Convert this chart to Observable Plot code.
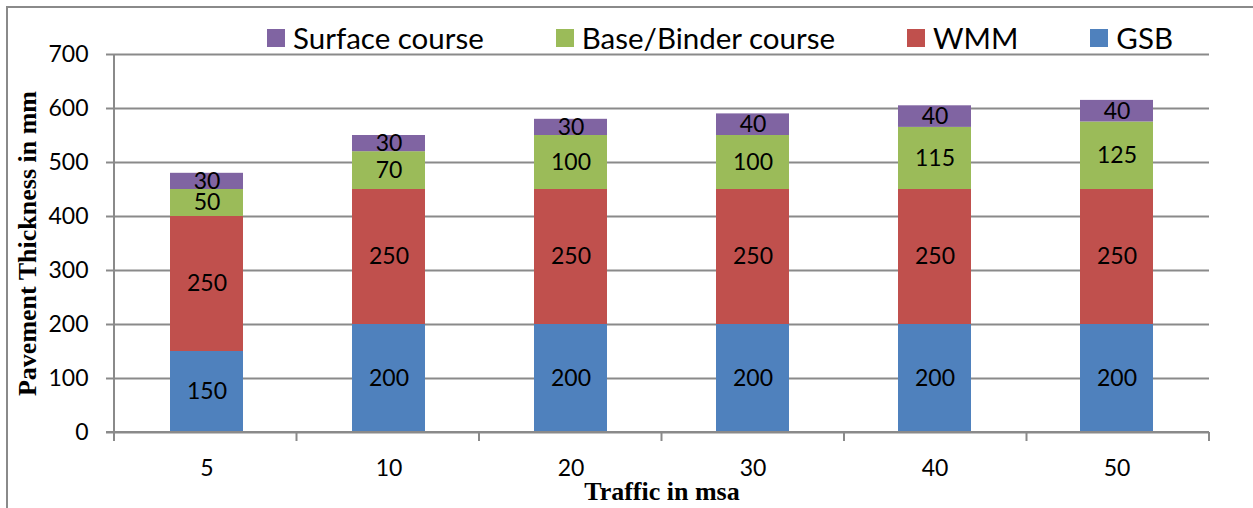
<!DOCTYPE html>
<html><head><meta charset="utf-8">
<script src="https://cdn.jsdelivr.net/npm/d3@7"></script>
<script src="https://cdn.jsdelivr.net/npm/@observablehq/plot@0.6"></script>
<style>
html,body{margin:0;padding:0;background:#fff;overflow:hidden;}
#wrap{position:relative;width:1253px;height:508px;overflow:hidden;}
#border{position:absolute;left:6px;top:6px;width:1400px;height:700px;border-left:2px solid #8a8a8a;border-top:2px solid #8a8a8a;pointer-events:none;box-sizing:border-box;}
#legend{position:absolute;left:267px;top:20px;display:flex;gap:72px;font-family:Lato,sans-serif;font-size:29.5px;line-height:1.2;color:#000;}
.item{display:flex;align-items:center;white-space:nowrap;}
.sw{width:18px;height:18px;margin-right:8px;}
#chart svg{display:block;}
</style></head>
<body>
<div id="wrap"><div id="chart"></div><div id="legend"></div><div id="border"></div></div>
<script>
const categories = ["5", "10", "20", "30", "40", "50"];
const gsb     = [150, 200, 200, 200, 200, 200];
const wmm     = [250, 250, 250, 250, 250, 250];
const base    = [50, 70, 100, 100, 115, 125];
const surface = [30, 30, 30, 40, 40, 40];
const layers = ["GSB", "WMM", "Base/Binder course", "Surface course"];
const layerColors = ["#4F81BD", "#C0504D", "#9BBB59", "#8064A2"];
const legendOrder = ["Surface course", "Base/Binder course", "WMM", "GSB"];
const yTicks = [0, 100, 200, 300, 400, 500, 600, 700];
const xTitle = "Traffic in msa";
const yTitle = "Pavement Thickness in mm";
const axisColor = "#8a8a8a";

const series = [gsb, wmm, base, surface];
const rows = [];
categories.forEach((c, i) => layers.forEach((l, j) => rows.push({cat: c, layer: l, value: series[j][i]})));

function frameLines(index, scales, values, dims) {
  const {width, height, marginLeft, marginRight, marginBottom} = dims;
  const left = marginLeft, right = width - marginRight, bottom = height - marginBottom;
  const n = categories.length, step = (right - left) / n;
  const g = d3.create("svg:g").attr("stroke", axisColor).attr("stroke-width", 2).attr("fill", "none");
  g.append("line").attr("x1", left).attr("x2", left).attr("y1", scales.y(yTicks[yTicks.length - 1])).attr("y2", bottom);
  g.append("line").attr("x1", left - 8).attr("x2", right).attr("y1", bottom).attr("y2", bottom);
  d3.range(n + 1).forEach(i => g.append("line").attr("x1", left + i * step).attr("x2", left + i * step).attr("y1", bottom).attr("y2", bottom + 9));
  return g.node();
}

const chart = Plot.plot({
  width: 1253, height: 508,
  marginLeft: 114, marginRight: 44, marginTop: 54, marginBottom: 76,
  style: {fontFamily: "Lato, sans-serif", fontSize: "23px", color: "#000", background: "transparent"},
  x: {domain: categories, paddingInner: 0.6, paddingOuter: 0.3, axis: null},
  y: {domain: [0, 700], axis: null},
  color: {domain: layers, range: layerColors},
  marks: [
    Plot.gridY(yTicks, {stroke: axisColor, strokeOpacity: 1, strokeWidth: 2}),
    Plot.axisY(yTicks, {label: null, tickSize: 8, tickPadding: 18, stroke: axisColor, strokeWidth: 2, fontSize: 23, fill: "#000", tickFormat: d => String(d)}),
    Plot.barY(rows, Plot.stackY({x: "cat", y: "value", fill: "layer", order: layers})),
    Plot.text(rows, Plot.stackY({x: "cat", y: "value", z: "layer", order: layers, text: d => String(d.value), fill: "#000", fontSize: 23})),
    Plot.axisX({label: null, tickSize: 0, tickPadding: 27, fontSize: 23, fill: "#000"}),
    frameLines,
    Plot.text([xTitle], {text: d => d, frameAnchor: "bottom", dy: 59, textAnchor: "middle", lineAnchor: "middle", fontFamily: "Liberation Serif, serif", fontWeight: "bold", fontSize: 26, fill: "#000"}),
    Plot.text([yTitle], {text: d => d, frameAnchor: "left", dx: -87, rotate: -90, textAnchor: "middle", lineAnchor: "middle", fontFamily: "Liberation Serif, serif", fontWeight: "bold", fontSize: 26, fill: "#000"})
  ]
});
document.getElementById("chart").appendChild(chart);

const legend = d3.select("#legend");
legendOrder.forEach(name => {
  const it = legend.append("div").attr("class", "item");
  it.append("div").attr("class", "sw").style("background", layerColors[layers.indexOf(name)]);
  it.append("span").text(name);
});
</script>
</body></html>
